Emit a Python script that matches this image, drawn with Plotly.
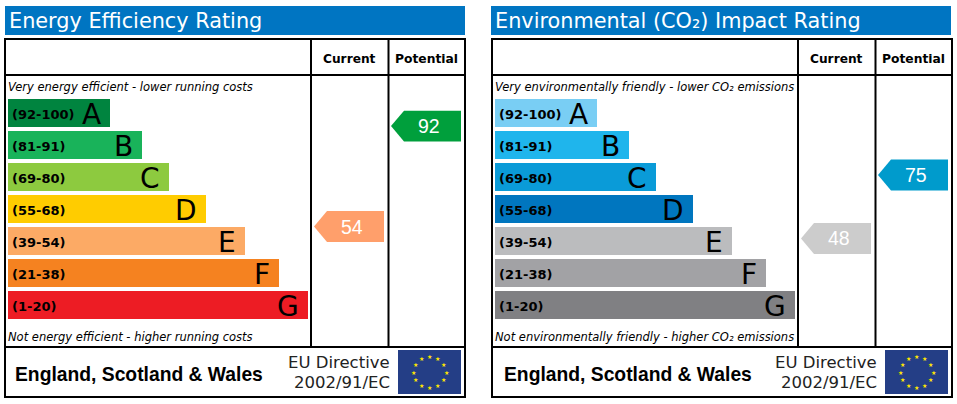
import math

import plotly.graph_objects as go

W, H = 957, 404

# === Data ===
bands = ["(92-100)", "(81-91)", "(69-80)", "(55-68)", "(39-54)", "(21-38)", "(1-20)"]
letters = ["A", "B", "C", "D", "E", "F", "G"]
bar_lengths = [102, 134, 161, 198, 237, 271, 300]

energy_colors = ["#00843F", "#19B35A", "#8DCA3F", "#FFCC00", "#FCAA65", "#F58220", "#ED1C24"]
env_colors = ["#79CEF4", "#1FB5EC", "#0A9BD8", "#0076BF", "#BBBCBE", "#A2A2A5", "#808083"]

energy_current = 54
energy_potential = 92
env_current = 48
env_potential = 75

# row on the band axis where each arrow sits (0 = A, 6 = G)
energy_current_row = 3.55
energy_potential_row = 0.41
env_current_row = 3.92
env_potential_row = 1.94

energy_arrow_colors = ["#FF9F6B", "#009F3C"]
env_arrow_colors = ["#CCCCCC", "#009BCC"]

FONT = "DejaVu Sans"
ARIAL = "Liberation Sans"


def px(x):
    return x / W


def py(y):
    return 1 - y / H


def text(x, y, s, size, color="black", family=FONT, anchor="left"):
    return dict(xref="paper", yref="paper", x=px(x), y=py(y), text=s, showarrow=False,
                xanchor=anchor, yanchor="middle", font=dict(size=size, color=color, family=family))


fig = go.Figure()
shapes = []
annotations = []
layout_axes = {}


def add_panel(n, dx, colors, title, title_size, top_note, bottom_note, current, potential,
              current_row, potential_row, arrow_colors):
    bar_x = "x" + str(2 * n + 1)
    arrow_x = "x" + str(2 * n + 2)
    y_name = "y" + str(n + 1)

    # === Achsen: px-Bereich des Panels ===
    layout_axes["xaxis" + str(2 * n + 1)] = dict(
        domain=[px(8 + dx), px(308 + dx)], range=[0, 300], visible=False, anchor=y_name)
    layout_axes["xaxis" + str(2 * n + 2)] = dict(
        domain=[px(311 + dx), px(465 + dx)], range=[0, 154], visible=False, anchor=y_name)
    layout_axes["yaxis" + str(n + 1)] = dict(
        domain=[py(321), py(97)], range=[6.5, -0.5], visible=False, anchor=bar_x)

    rows = list(range(len(bands)))
    fig.add_trace(go.Bar(
        x=bar_lengths, y=rows, orientation="h", width=0.875,
        marker=dict(color=colors, line_width=0), xaxis=bar_x, yaxis=y_name,
        hoverinfo="skip", showlegend=False))

    for row, band, letter, length in zip(rows, bands, letters, bar_lengths):
        annotations.append(dict(
            xref=bar_x, yref=y_name, x=0, y=row, text="<b>" + band + "</b>", showarrow=False,
            xanchor="left", xshift=2, yshift=-1, font=dict(size=13, color="black", family=FONT)))
        annotations.append(dict(
            xref=bar_x, yref=y_name, x=length, y=row, text=letter, showarrow=False,
            xanchor="right", xshift=-7, yshift=-1, font=dict(size=28, color="black", family=FONT)))

    # === Pfeile ===
    half = 0.484
    for col_start, value, row, color in [(3, current, current_row, arrow_colors[0]),
                                         (80, potential, potential_row, arrow_colors[1])]:
        fig.add_trace(go.Scatter(
            x=[col_start, col_start + 13, col_start + 70, col_start + 70, col_start + 13, col_start],
            y=[row, row - half, row - half, row + half, row + half, row],
            fill="toself", fillcolor=color, mode="none", xaxis=arrow_x, yaxis=y_name,
            hoverinfo="skip", showlegend=False))
        annotations.append(dict(
            xref=arrow_x, yref=y_name, x=col_start + 38, y=row, text=str(value), showarrow=False,
            font=dict(size=19.5, color="white", family=ARIAL)))

    # === Rahmen ===
    shapes.append(dict(type="rect", xref="paper", yref="paper", x0=px(5 + dx - (dx > 0)), x1=px(465 + dx - (dx > 0)),
                       y0=py(6), y1=py(35), fillcolor="#0075C2", line_width=0))
    shapes.append(dict(type="rect", xref="paper", yref="paper", x0=px(5 + dx), x1=px(465 + dx),
                       y0=py(39), y1=py(397), line=dict(color="black", width=2)))
    for x0, y0, x1, y1 in [(5, 75, 465, 75), (5, 347, 465, 347), (311, 39, 311, 347), (388.5, 39, 388.5, 347)]:
        shapes.append(dict(type="line", xref="paper", yref="paper", x0=px(x0 + dx), x1=px(x1 + dx),
                           y0=py(y0), y1=py(y1), line=dict(color="black", width=2)))

    # === Texte ===
    annotations.append(text(7 + dx - (dx > 0), 21, title, title_size, color="white"))
    annotations.append(text(349.5 + dx, 59, "<b>Current</b>", 12.2, anchor="center"))
    annotations.append(text(426.5 + dx, 59, "<b>Potential</b>", 12.3, anchor="center"))
    annotations.append(text(6 + dx, 87.5, "<i>" + top_note + "</i>", 11.5))
    annotations.append(text(6 + dx, 336.5, "<i>" + bottom_note + "</i>", 11.5))
    annotations.append(text(13 + dx + 2 * (dx > 0), 374, "<b>England, Scotland &amp; Wales</b>", 19.3, family=ARIAL))
    annotations.append(text(392 + dx, 362, "EU Directive", 16.5, color="#222222", anchor="right"))
    annotations.append(text(392 + dx, 382, "2002/91/EC", 16.5, color="#222222", anchor="right"))

    # === EU-Flagge ===
    shapes.append(dict(type="rect", xref="paper", yref="paper", x0=px(398 + dx), x1=px(461 + dx),
                       y0=py(350), y1=py(394), fillcolor="#243E86", line_width=0))
    for i in range(12):
        a = math.radians(30 * i)
        annotations.append(text(429.5 + dx + 16.5 * math.sin(a), 372 - 15.5 * math.cos(a), "★", 6,
                                color="#FFE600", anchor="center"))


add_panel(0, 0, energy_colors, "Energy Efficiency Rating", 20.8,
          "Very energy efficient - lower running costs", "Not energy efficient - higher running costs",
          energy_current, energy_potential, energy_current_row, energy_potential_row, energy_arrow_colors)
add_panel(1, 487, env_colors, "Environmental (CO₂) Impact Rating", 20.8,
          "Very environmentally friendly - lower CO₂ emissions",
          "Not environmentally friendly - higher CO₂ emissions",
          env_current, env_potential, env_current_row, env_potential_row, env_arrow_colors)

fig.update_layout(
    width=W, height=H,
    margin=dict(l=0, r=0, t=0, b=0),
    paper_bgcolor="white", plot_bgcolor="white",
    shapes=shapes, annotations=annotations,
    showlegend=False,
    **layout_axes,
)

fig.write_html("out.html", config={"displayModeBar": False},
               post_script="document.body.style.margin='0';")
